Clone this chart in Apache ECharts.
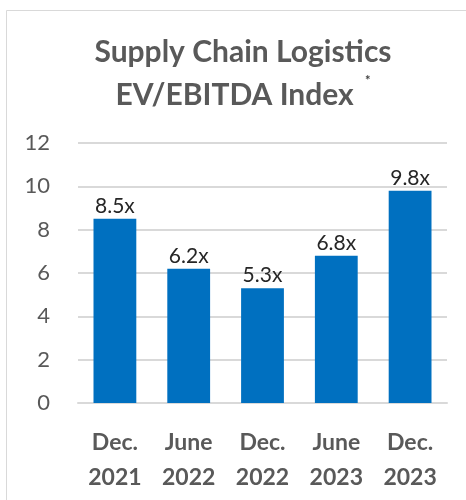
<!DOCTYPE html>
<html>
<head>
<meta charset="utf-8">
<script src="https://cdn.jsdelivr.net/npm/echarts@6/dist/echarts.min.js"></script>
<style>
  html, body { margin: 0; padding: 0; background: #fff; }
  #main { width: 466px; height: 500px; }
</style>
</head>
<body>
<div id="main"></div>
<script>
const categories = ['Dec.\n2021', 'June\n2022', 'Dec.\n2022', 'June\n2023', 'Dec.\n2023'];
const values = [8.5, 6.2, 5.3, 6.8, 9.8];
const yTicks = [0, 2, 4, 6, 8, 10, 12];

const FONT = 'Lato, "Open Sans", sans-serif';
const GRAY = '#595959';

var myChart = echarts.init(document.getElementById('main'));

let option = {
    backgroundColor: '#fff',
    animation: false,
    graphic: [{
        type: 'rect',
        shape: { x: 6.5, y: 10.5, width: 470, height: 500 },
        style: { fill: 'none', stroke: '#d9d9d9', lineWidth: 1 }
    }],
    title: {
        text: 'Supply Chain Logistics\n{t|EV/EBITDA Index} {s|*}',
        left: 238,
        top: 26,
        textAlign: 'center',
        textStyle: {
            color: GRAY,
            fontFamily: FONT,
            fontWeight: 'bold',
            fontSize: 30,
            lineHeight: 43,
            rich: {
                t: { color: GRAY, fontFamily: FONT, fontWeight: 'bold', fontSize: 30, lineHeight: 43 },
                s: { color: '#404040', fontFamily: FONT, fontWeight: 'bold', fontSize: 13, verticalAlign: 'top', lineHeight: 43, padding: [0, 0, 0, 4] }
            }
        }
    },
    grid: {
        left: 78,
        right: 19,
        top: 143,
        bottom: 97
    },
    xAxis: {
        type: 'category',
        data: categories,
        axisTick: { show: false },
        axisLine: { lineStyle: { color: '#d9d9d9', width: 2 } },
        axisLabel: {
            color: GRAY,
            fontFamily: FONT,
            fontWeight: 'bold',
            fontSize: 23,
            lineHeight: 35,
            margin: 22
        }
    },
    yAxis: {
        type: 'value',
        min: yTicks[0],
        max: yTicks[yTicks.length - 1],
        interval: 2,
        axisLine: { show: false },
        axisTick: { show: false },
        axisLabel: {
            color: GRAY,
            fontFamily: FONT,
            fontSize: 22,
            margin: 28
        },
        splitLine: { lineStyle: { color: '#d9d9d9', width: 2 } }
    },
    series: [{
        type: 'bar',
        data: values,
        barWidth: '58%',
        itemStyle: { color: '#0070C0' },
        label: {
            show: true,
            position: 'top',
            distance: 2,
            color: '#262626',
            fontFamily: FONT,
            fontSize: 21,
            formatter: function (p) { return p.value.toFixed(1) + 'x'; }
        }
    }]
};

myChart.setOption(option);
</script>
</body>
</html>
